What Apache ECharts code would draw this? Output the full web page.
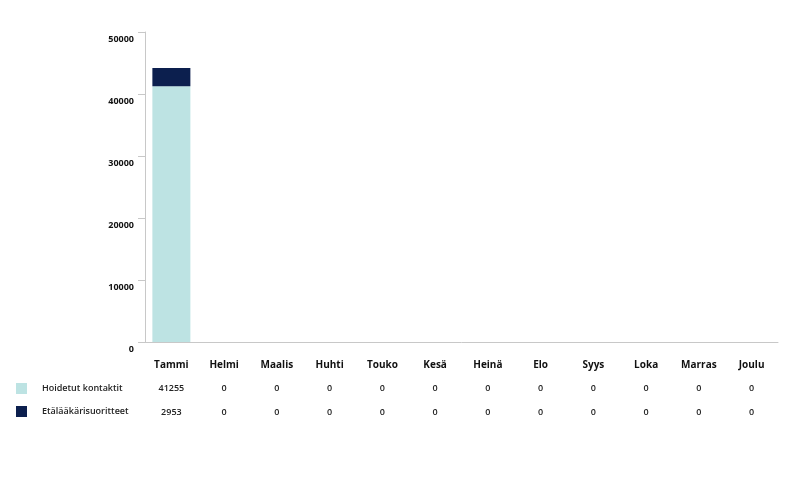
<!DOCTYPE html>
<html>
<head>
<meta charset="utf-8">
<script src="https://cdn.jsdelivr.net/npm/echarts@6/dist/echarts.min.js"></script>
<style>html,body{margin:0;padding:0;background:#fff}#c{width:795px;height:477px}</style>
</head>
<body>
<div id="c"></div>
<script>
const categories = ['Tammi','Helmi','Maalis','Huhti','Touko','Kesä','Heinä','Elo','Syys','Loka','Marras','Joulu'];
const seriesNames = ['Hoidetut kontaktit','Etälääkärisuoritteet'];
const hoidetut = [41255,0,0,0,0,0,0,0,0,0,0,0];
const etalaakari = [2953,0,0,0,0,0,0,0,0,0,0,0];
const yTicks = [0,10000,20000,30000,40000,50000];

const FONT = '"Open Sans", Lato, sans-serif';
const chart = echarts.init(document.getElementById('c'));
const tableAxis = (vals, offset) => ({
  type: 'category', position: 'bottom', gridIndex: 0, offset: offset,
  data: vals.map(String),
  axisLine: {show: false}, axisTick: {show: false},
  axisLabel: {color: '#222', fontSize: 9, fontWeight: 600, fontFamily: FONT, margin: 0, interval: 0}
});
chart.setOption({
  animation: false,
  grid: {left: 145, right: 17, top: 32, bottom: 135, containLabel: false},
  legend: {
    orient: 'vertical', left: 16, top: 383, padding: 0, itemWidth: 11, itemHeight: 11, itemGap: 12,
    icon: 'rect', data: seriesNames,
    textStyle: {fontFamily: FONT, fontSize: 9, fontWeight: 600, color: '#222', padding: [0,0,0,10]}
  },
  xAxis: [
    {
      type: 'category', data: categories,
      axisLine: {lineStyle: {color: '#c8c8c8'}},
      axisTick: {inside: true, length: 8, lineStyle: {color: '#c8c8c8'}},
      axisLabel: {color: '#111', fontWeight: 'bold', fontSize: 10, fontFamily: FONT, margin: 18, interval: 0}
    },
    tableAxis(hoidetut, 42),
    tableAxis(etalaakari, 66)
  ],
  yAxis: {
    type: 'value', min: yTicks[0], max: yTicks[yTicks.length-1], interval: 10000,
    splitLine: {show: false},
    axisLine: {show: true, lineStyle: {color: '#c8c8c8'}},
    axisTick: {show: true, length: 7, lineStyle: {color: '#c8c8c8'}},
    axisLabel: {color: '#111', fontWeight: 'bold', fontSize: 9, fontFamily: FONT, margin: 11,
      verticalAlign: 'top', padding: [3,0,0,0], formatter: v => String(v)}
  },
  series: [
    {name: seriesNames[0], type: 'bar', stack: 's', data: hoidetut, barWidth: 38, itemStyle: {color: '#bde3e3'}},
    {name: seriesNames[1], type: 'bar', stack: 's', data: etalaakari, barWidth: 38, itemStyle: {color: '#0c1f4e'}}
  ]
});
</script>
</body>
</html>
